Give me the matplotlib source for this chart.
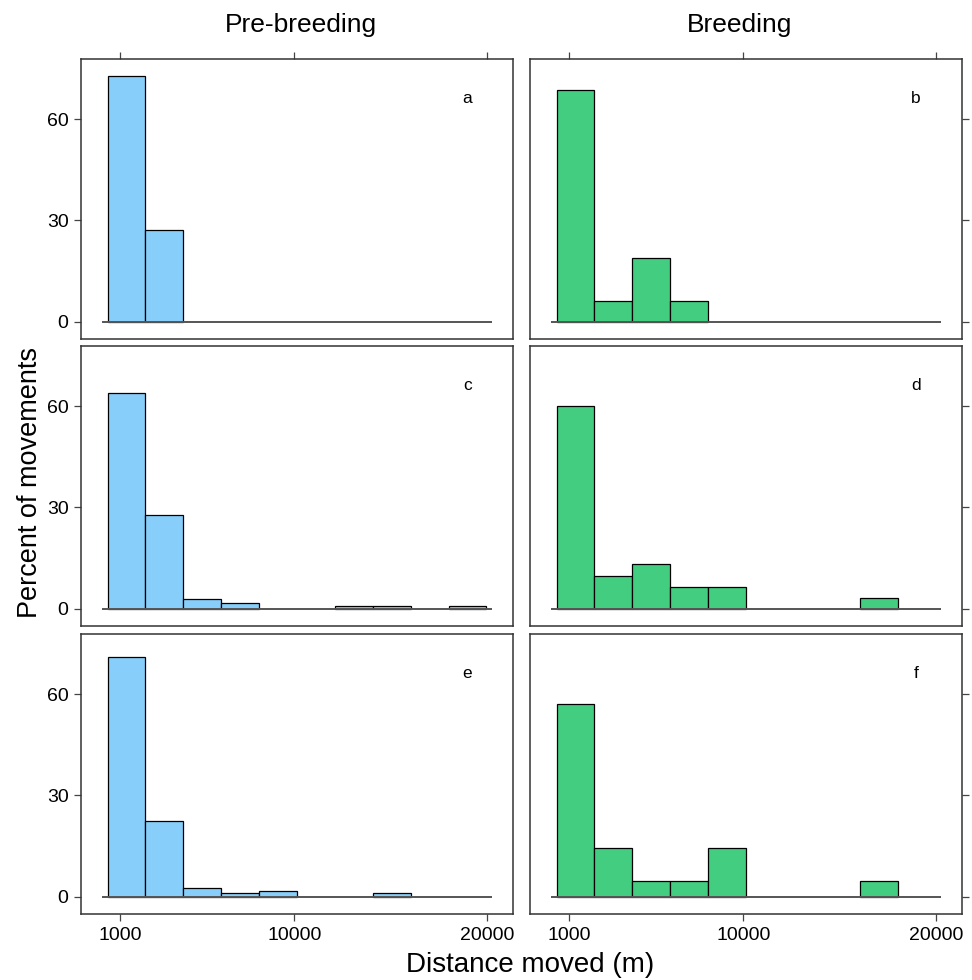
import numpy as np
import matplotlib.pyplot as plt

plt.rcParams['font.family'] = ['Liberation Sans', 'DejaVu Sans']

# histogram breaks (10 equal bins over the pooled data range)
break_min = 330
break_max = 19950
n_bins = 10

# percent of movements per bin
pct_a = [72.7, 27.3, 0, 0, 0, 0, 0, 0, 0, 0]
pct_b = [68.75, 6.25, 18.75, 6.25, 0, 0, 0, 0, 0, 0]
pct_c = [64.0, 27.7, 2.8, 1.8, 0, 0, 0.9, 0.9, 0, 0.9]
pct_d = [60.0, 9.8, 13.3, 6.4, 6.4, 0, 0, 0, 3.2, 0]
pct_e = [70.9, 22.4, 2.6, 1.0, 1.6, 0, 0, 1.0, 0, 0]
pct_f = [57.1, 14.3, 4.8, 4.8, 14.3, 0, 0, 0, 4.8, 0]

col_titles = ['Pre-breeding', 'Breeding']
panel_letters = ['a', 'b', 'c', 'd', 'e', 'f']
x_ticks = [1000, 10000, 20000]
y_ticks = [0, 30, 60]
colours = ['#87CEFA', '#43CD80']

panels = [[pct_a, pct_b], [pct_c, pct_d], [pct_e, pct_f]]

edges = np.linspace(break_min, break_max, n_bins + 1)
span = break_max - break_min
xlim = (break_min - 0.07 * span, break_max + 0.07 * span)
ymax = max(max(p) for row in panels for p in row)
ylim = (-0.07 * ymax, 1.07 * ymax)

fig = plt.figure(figsize=(9.72, 9.8), dpi=100)
W, H = 972, 980
col_x = [81, 530]
row_y = [59, 346, 634]
pw, ph = 432, 280
title_x = [301, 740]

edge_col = '#333333'
for r in range(3):
    for c in range(2):
        ax = fig.add_axes([col_x[c] / W, 1 - (row_y[r] + ph) / H, pw / W, ph / H])
        vals = np.array(panels[r][c])
        keep = vals > 0
        ax.bar(edges[:-1][keep], vals[keep], width=np.diff(edges)[keep], align='edge',
               color=colours[c], edgecolor='black', linewidth=0.9, zorder=2)
        ax.plot([edges[0] - 0.0157 * span, edges[-1] + 0.0157 * span], [0, 0],
                color='#555555', lw=1.4, zorder=3, solid_capstyle='butt')
        ax.text(18950, 66, panel_letters[r * 2 + c], fontsize=12.5,
                ha='center', va='center')
        ax.set_xlim(xlim)
        ax.set_ylim(ylim)
        for s in ax.spines.values():
            s.set_color(edge_col)
            s.set_linewidth(1.1)

        ax.set_xticks(x_ticks)
        ax.set_yticks(y_ticks)
        ax.tick_params(direction='out', length=5, width=0.9, color='#444444',
                       labelsize=14, pad=4)
        # x ticks: top row on top, bottom row labelled at bottom
        ax.tick_params(axis='x', top=(r == 0), bottom=(r == 2),
                       labeltop=False, labelbottom=(r == 2))
        ax.tick_params(axis='y', left=(c == 0), right=(c == 1),
                       labelleft=(c == 0), labelright=False)

for c in range(2):
    fig.text(title_x[c] / W, 1 - 25 / H, col_titles[c], ha='center', va='center',
             fontsize=19)

fig.text(530 / W, 1 - 965 / H, 'Distance moved (m)', ha='center', va='center',
         fontsize=20)
fig.text(30 / W, 1 - 483 / H, 'Percent of movements', ha='center', va='center',
         rotation=90, fontsize=19.5)

fig.savefig('out.png', dpi=100)
